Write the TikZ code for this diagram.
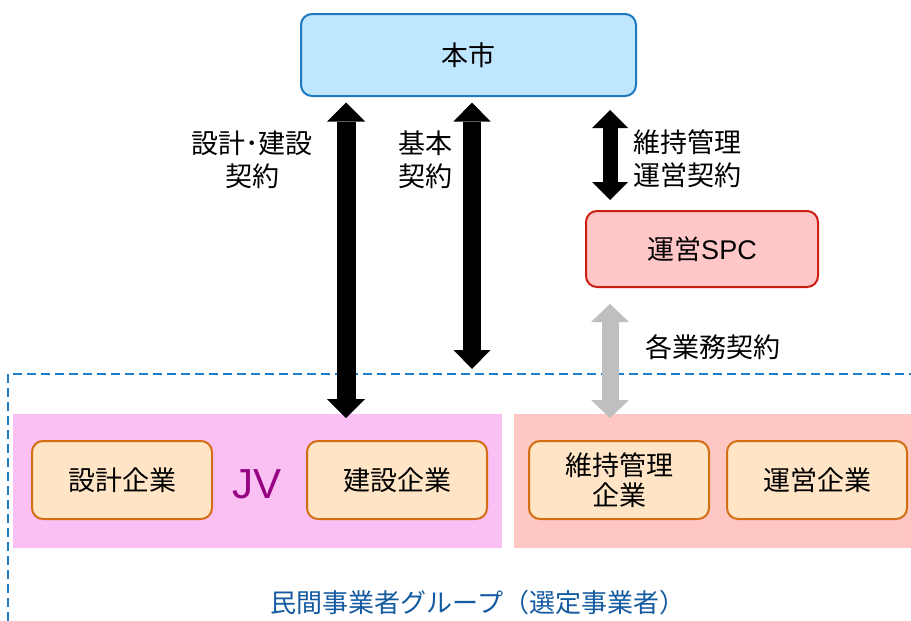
\documentclass[tikz,border=0pt]{standalone}
\usepackage{fontspec}
\setmainfont{Noto Sans CJK JP}
\newfontfamily\latinsans{Liberation Sans}
\usetikzlibrary{arrows.meta}
\definecolor{cityfill}{RGB}{190,230,255}
\definecolor{cityline}{RGB}{30,120,190}
\definecolor{spcfill}{RGB}{255,199,199}
\definecolor{spcline}{RGB}{205,30,20}
\definecolor{cofill}{RGB}{255,228,197}
\definecolor{coline}{RGB}{210,110,20}
\definecolor{jvpink}{RGB}{251,192,243}
\definecolor{omsalmon}{RGB}{255,199,196}
\definecolor{grpblue}{RGB}{30,125,200}
\definecolor{grptext}{RGB}{20,90,160}
\definecolor{jvpurple}{RGB}{150,0,130}
\definecolor{grayarrow}{RGB}{191,191,191}
\tikzset{
  txt/.style={font=\fontsize{27}{33}\selectfont, text=black, inner sep=0pt},
  roundbox/.style={txt, draw, line width=2pt, rounded corners=11pt, align=center},
  citybox/.style={roundbox, fill=cityfill, draw=cityline, minimum width=335pt, minimum height=82pt},
  spcbox/.style={roundbox, fill=spcfill, draw=spcline, minimum width=232pt, minimum height=76pt},
  cobox/.style={roundbox, fill=cofill, draw=coline, minimum width=180pt, minimum height=78pt},
  area/.style={inner sep=0pt, outer sep=0pt},
}
\begin{document}
\begin{tikzpicture}[x=1pt,y=-1pt]
\useasboundingbox (0,0) rectangle (911,621);
% group background areas
\node[area, fill=jvpink, minimum width=489pt, minimum height=134pt] (jv) at (257.5,481) {};
\node[area, fill=omsalmon, minimum width=397pt, minimum height=134pt] (om) at (712.5,481) {};
% dashed group boundary
\coordinate (gb1) at (8,621);
\coordinate (gb2) at (8,374);
\coordinate (gb3) at (911,374);
\draw[grpblue, line width=1.6pt, dash pattern=on 9pt off 5pt] (gb1) -- (gb2) -- (gb3);
% boxes
\node[citybox] (city) at (468.5,55) {本市};
\node[spcbox] (spc) at (702,249) {運営{\latinsans SPC}};
\node[cobox] (design) at (122,480) {設計企業};
\node[cobox] (build) at (397,480) {建設企業};
\node[cobox] (maint) at (619,480) {維持管理\\[-3pt]企業};
\node[cobox] (oper) at (817,480) {運営企業};
\node[inner sep=0pt, font=\latinsans\fontsize{42}{42}\selectfont, text=jvpurple] (jvtext) at (257,484) {JV};
% arrow columns
\coordinate (c1) at (346,0);
\coordinate (c2) at (472,0);
\coordinate (c3) at (610,0);
\coordinate (a2b) at (472,369);
% arrows
\draw[line width=19pt, {Triangle[width=38pt,length=19pt,line width=0pt]}-{Triangle[width=38pt,length=19pt,line width=0pt]}]
  ([yshift=-5.5pt]city.south -| c1) -- ([yshift=-4pt]jv.north -| c1);
\draw[line width=18pt, {Triangle[width=37pt,length=19pt,line width=0pt]}-{Triangle[width=37pt,length=19pt,line width=0pt]}]
  ([yshift=-5.5pt]city.south -| c2) -- (a2b);
\draw[line width=15pt, {Triangle[width=36pt,length=18pt,line width=0pt]}-{Triangle[width=36pt,length=18pt,line width=0pt]}]
  ([yshift=-13pt]city.south -| c3) -- ([yshift=10pt]spc.north -| c3);
\draw[grayarrow, line width=17pt, {Triangle[width=38pt,length=18pt,line width=0pt]}-{Triangle[width=38pt,length=18pt,line width=0pt]}]
  ([yshift=-16pt]spc.south -| c3) -- ([yshift=-4pt]om.north -| c3);
% labels
\node[txt, align=center] (l1) at (252,160) {設計･建設\\契約};
\node[txt, align=center] (l2) at (425,160) {基本\\契約};
\node[txt, align=left, anchor=west] (l3) at (633,159) {維持管理\\運営契約};
\node[txt, anchor=west] (l4) at (645,347) {各業務契約};
\node[txt, text=grptext, font=\fontsize{26}{30}\selectfont] (grp) at (478,603) {民間事業者グループ（選定事業者）};
\end{tikzpicture}
\end{document}
